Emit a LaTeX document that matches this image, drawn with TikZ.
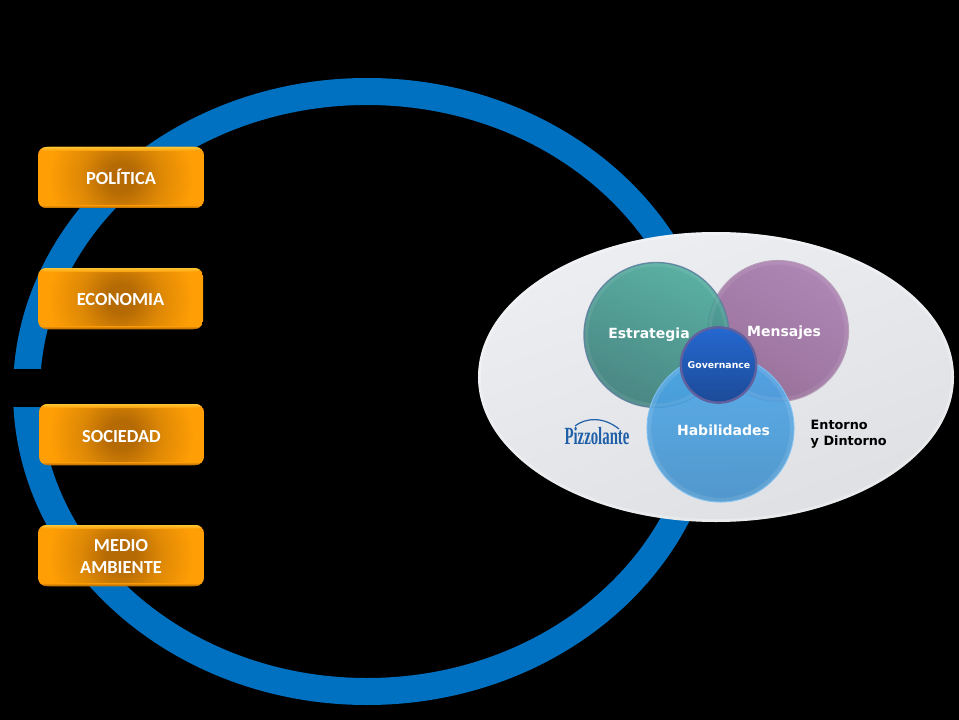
\documentclass[tikz,border=0pt]{standalone}
\usepackage{fontspec}
\setmainfont{Carlito}
\newfontfamily\dv{DejaVu Sans}
\newfontfamily\pzf[FakeStretch=0.6]{Liberation Serif}
\usetikzlibrary{calc}
\definecolor{ringblue}{HTML}{0070C0}
\definecolor{orA}{HTML}{FF9E05}
\definecolor{orB}{HTML}{B56A04}
\definecolor{orM}{HTML}{DE8805}
\definecolor{orTop}{HTML}{FFCB3A}
\definecolor{orEdge}{HTML}{A86204}
\definecolor{tealA}{HTML}{46A898}
\definecolor{tealB}{HTML}{357A76}
\definecolor{purpA}{HTML}{AE86B4}
\definecolor{purpB}{HTML}{98719A}
\definecolor{bluA}{HTML}{4DA8EC}
\definecolor{bluB}{HTML}{4290CA}
\definecolor{govA}{HTML}{2468D0}
\definecolor{govB}{HTML}{1C4A98}
\definecolor{rimC}{HTML}{5C7F9E}
\definecolor{logoblue}{HTML}{1F5FA8}
\definecolor{ellA}{HTML}{ECEEF2}
\definecolor{ellB}{HTML}{DEE0E3}
\pgfdeclareradialshading{orrad}{\pgfpoint{0bp}{0bp}}{color(0bp)=(orB); color(5bp)=(orB); color(14bp)=(orM); color(25bp)=(orA); color(50bp)=(orA)}
\tikzset{x=0.75pt,y=-0.75pt,
  orbox/.style={rectangle,rounded corners=6.2pt,inner sep=0pt,minimum width=124.5pt,minimum height=45.75pt,
    path picture={
      \fill[orA] (path picture bounding box.south west) rectangle (path picture bounding box.north east);
      \shade[shading=orrad]
        ($(path picture bounding box.center)+(-72,-72)$) rectangle ($(path picture bounding box.center)+(72,72)$);
      \shade[top color=orTop,bottom color=orA,opacity=.9] (path picture bounding box.north west) rectangle ($(path picture bounding box.north east)+(0,4)$);
      \shade[top color=orA,bottom color=orEdge,opacity=.9] ($(path picture bounding box.south west)+(0,-3)$) rectangle (path picture bounding box.south east);
    }},
  orlabel/.style={inner sep=0pt,font=\fontsize{13.8pt}{16.5pt}\selectfont\bfseries,text=white,align=center},
  vtxt/.style={font=\dv\fontsize{#1}{12pt}\selectfont\bfseries,text=white,align=center},
  vtxt/.default=10pt,
  disc/.style={circle,inner sep=0pt,minimum size=#1}}
\begin{document}
\begin{tikzpicture}
\useasboundingbox (0,0) rectangle (959,720);
\fill[black] (0,0) rectangle (959,720);
% ring
\fill[ringblue,even odd rule] (367,391.5) ellipse [x radius=354,y radius=313.5]
  (367,391.5) ellipse [x radius=327,y radius=286.5];
\fill[black] (0,369) rectangle (60,407);
% boxes
\node[orbox] (pol) at (121,177.5) {};
\node[orbox,minimum width=123.75pt] (eco) at (120.5,298.5) {};
\node[orbox,minimum width=123.75pt] (soc) at (121.5,434.5) {};
\node[orbox] (med) at (121,555.5) {};
\node[orlabel] (lpol) at (121,176.6) {POLÍTICA};
\node[orlabel] (leco) at (120.5,299.5) {ECONOMIA};
\node[orlabel] (lsoc) at (121.5,436.3) {SOCIEDAD};
\node[orlabel] (lmed) at (121,556.5) {MEDIO\\AMBIENTE};
% white ellipse
\shade[top color=ellA,bottom color=ellB,shading angle=20]
  (716,377) ellipse [x radius=238,y radius=145];
\draw[white,opacity=.3,line width=2pt] (716,377) ellipse [x radius=236.5,y radius=143.5];
% circles
\node[disc=105.75pt,shade,left color=purpA,right color=purpB,shading angle=-30,draw=purpB!70!white,line width=.8pt] (men) at (778,331) {};
\node[disc=108.75pt,shade,top color=tealA,bottom color=tealB,shading angle=-25,draw=rimC,line width=1pt,opacity=.88] (est) at (656.5,335) {};
\node[disc=110.25pt,shade,top color=bluA,bottom color=bluB,opacity=.9,draw=bluA!70!white,line width=.8pt] (hab) at (720.5,428.5) {};
\draw[white,opacity=.08,line width=2.5pt] (est) circle (70);
\draw[white,opacity=.08,line width=2.5pt] (men) circle (68);
\draw[white,opacity=.1,line width=2.5pt] (hab) circle (71);
\node[disc=56.5pt,shade,top color=govA,bottom color=govB,draw=gray!75!blue,line width=1.8pt] (gov) at (718.5,365) {};
\node[vtxt=10.5pt] (testr) at (649,334.5) {Estrategia};
\node[vtxt=10.5pt] (tmen) at (784,332.5) {Mensajes};
\node[vtxt=10.5pt] (thab) at (723.5,430) {Habilidades};
\node[vtxt=7pt] (tgov) at (719,365) {Governance};
\node[vtxt=9.6pt,text=black,align=left,anchor=west,font=\dv\fontsize{9.6pt}{12pt}\selectfont\bfseries] (ent) at (806,434.5) {Entorno\\y Dintorno};
% logo
\node[font=\pzf\fontsize{18.5pt}{18pt}\selectfont\bfseries,text=logoblue,inner sep=0pt] (logo) at (597,436) {Pizzolante};
\coordinate (swA) at (575,426);
\coordinate (swB) at (619,429);
\draw[logoblue,line width=.9pt] (swA) .. controls (585,418) and (603,416) .. (swB);
\end{tikzpicture}
\end{document}
